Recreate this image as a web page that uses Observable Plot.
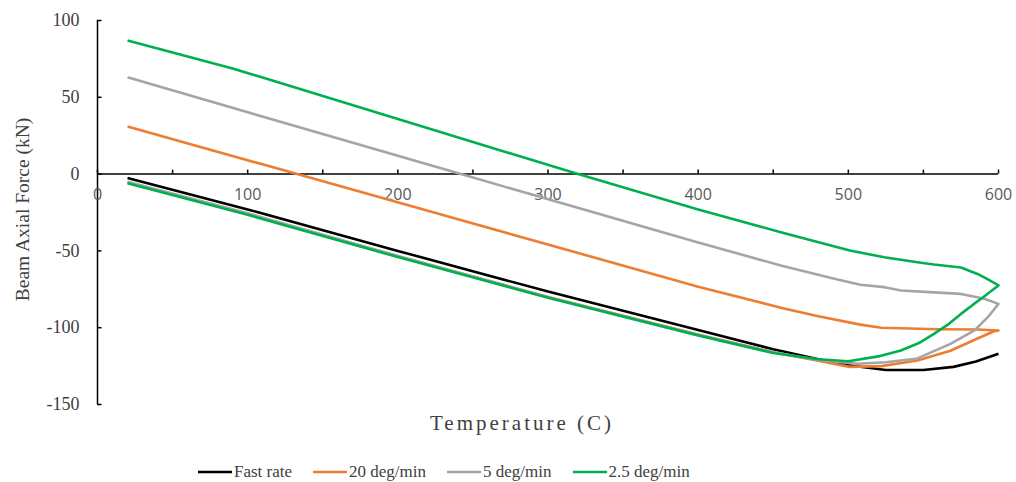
<!DOCTYPE html>
<html>
<head>
<meta charset="utf-8">
<script src="https://cdn.jsdelivr.net/npm/d3@7"></script>
<script src="https://cdn.jsdelivr.net/npm/@observablehq/plot@0.6"></script>
<style>
  html, body { margin: 0; padding: 0; background: #fff; }
  #wrap { position: relative; width: 1016px; height: 482px; }
  #legend {
    position: absolute; left: 198px; top: 461px;
    display: flex; gap: 21px; align-items: center;
    font-family: "Liberation Serif", "Times New Roman", serif;
    font-size: 17px; color: #404040; line-height: 22px;
  }
  #legend .item { display: flex; align-items: center; }
  #legend svg { display: block; margin-right: 2px; }
</style>
</head>
<body>
<div id="wrap"></div>
<script>
// Beam axial force against temperature for four heating rates.
// Each path runs through the heating branch and, where present, back along cooling.
const seriesNames = ["Fast rate", "20 deg/min", "5 deg/min", "2.5 deg/min"];
const seriesColors = ["#000000", "#ED7D31", "#A5A5A5", "#00B050"];

const fastTemp  = [20, 100, 200, 300, 400, 450, 480, 500, 525, 550, 570, 585, 600];
const fastForce = [-2.5, -23, -50, -76.5, -101.5, -114, -120.5, -124.5, -127.5, -127.5, -125.5, -122, -117];

const rate20Temp  = [20, 100, 200, 300, 400, 450, 480, 501, 522, 546, 568, 586, 597, 600,
                     586, 560, 522, 508, 480, 455, 400, 133, 20];
const rate20Force = [-5.5, -26, -53.5, -80, -104.5, -116, -121.5, -125.5, -125, -121.3, -115, -107, -102.3, -101.8,
                     -101.2, -101, -100, -98, -92.5, -87, -73.3, 0, 31];

const rate5Temp  = [20, 100, 200, 300, 400, 450, 480, 506, 525, 546, 568, 584, 593, 600,
                    590, 575, 557, 535, 524, 508, 490, 455, 400, 242, 20];
const rate5Force = [-5, -25.5, -53.3, -80, -104.8, -116, -121, -123.5, -122.5, -120, -110.5, -101.8, -93, -84.5,
                    -81, -78, -77, -75.8, -73.6, -72, -68, -59.5, -44.5, 0, 63];

const rate25Temp  = [20, 100, 200, 300, 400, 450, 480, 500, 521, 535, 547, 557, 567, 575, 583, 590, 596, 600,
                     593, 586, 575, 557, 546, 524, 501, 455, 400, 320, 90, 20];
const rate25Force = [-6, -26.5, -54, -80.5, -105, -116.5, -120.5, -121.8, -118.5, -114.8, -110, -104, -97.5, -91, -85, -80, -75.5, -72.5,
                     -68.5, -65, -60.8, -58.9, -57.4, -54.1, -49.8, -37.8, -23, 0, 68.8, 87];

const xTickLabels = [0, 100, 200, 300, 400, 500, 600];
const xMinorTicks = [0, 50, 100, 150, 200, 250, 300, 350, 400, 450, 500, 550, 600];
const yTickLabels = [100, 50, 0, -50, -100, -150];

const xLabel = "Temperature (C)";
const yLabel = "Beam Axial Force (kN)";

const toRows = (temps, forces) => temps.map((t, i) => ({t, f: forces[i]}));
const series = [
  toRows(fastTemp, fastForce),
  toRows(rate20Temp, rate20Force),
  toRows(rate5Temp, rate5Force),
  toRows(rate25Temp, rate25Force)
];

const serif = "'Liberation Serif', 'Times New Roman', serif";
const sans = "'Open Sans', sans-serif";
const axisColor = "#000000";

const chart = Plot.plot({
  width: 1016,
  height: 440,
  marginLeft: 97,
  marginRight: 18,
  marginTop: 20,
  marginBottom: 36,
  x: {domain: [0, 600], axis: null},
  y: {domain: [-150, 100], axis: null},
  style: {background: "#fff", fontFamily: serif},
  marks: [
    // vertical axis with inward ticks
    Plot.ruleX([0], {y1: -150, y2: 100, stroke: axisColor, strokeWidth: 1.5}),
    Plot.ruleY(yTickLabels, {x1: 0, x2: 3, stroke: axisColor, strokeWidth: 1.5}),
    Plot.text(yTickLabels, {x: 0, y: d => d, text: d => String(d), textAnchor: "end", dx: -18,
      fontSize: 18, fill: "#404040", fontFamily: serif}),
    // horizontal axis drawn along zero force, ticks pointing up
    Plot.ruleY([0], {x1: 0, x2: 600, stroke: axisColor, strokeWidth: 1.5}),
    Plot.ruleX(xMinorTicks, {x: d => d, y1: 0, y2: 2.6, stroke: axisColor, strokeWidth: 1.5}),
    Plot.text(xTickLabels, {x: d => d, y: 0, text: d => String(d), dy: 21,
      fontSize: 16, fill: "#595959", fontFamily: sans}),
    // one line per heating rate, later series on top
    ...series.map((rows, i) => Plot.line(rows, {
      x: "t", y: "f", stroke: seriesColors[i], strokeWidth: 2.6,
      strokeLinejoin: "round", strokeLinecap: "butt"
    })),
    // axis titles
    Plot.text([xLabel], {frameAnchor: "bottom", dx: -26, dy: 25, text: d => d,
      fontSize: 21, fill: "#404040", fontFamily: serif}),
    Plot.text([yLabel], {frameAnchor: "left", textAnchor: "middle", dx: -75, dy: -3, rotate: -90,
      text: d => d, fontSize: 19.5, fill: "#404040", fontFamily: serif})
  ]
});

// pin the typefaces on each text layer: y ticks, x ticks, x title, y title
const textLayers = chart.querySelectorAll('g[aria-label="text"]');
const faces = [serif, sans, serif, serif];
textLayers.forEach((g, i) => { g.style.fontFamily = faces[i] || serif; });
if (textLayers[2]) textLayers[2].style.letterSpacing = "3px";

const wrap = document.getElementById("wrap");
chart.style.position = "absolute";
chart.style.left = "0px";
chart.style.top = "0px";
wrap.appendChild(chart);

// legend below the plot
const legend = document.createElement("div");
legend.id = "legend";
seriesNames.forEach((name, i) => {
  const item = document.createElement("div");
  item.className = "item";
  item.innerHTML = `<svg width="34" height="4"><line x1="0" y1="2" x2="34" y2="2" stroke="${seriesColors[i]}" stroke-width="2.6"/></svg><span>${name}</span>`;
  legend.appendChild(item);
});
wrap.appendChild(legend);
</script>
</body>
</html>
